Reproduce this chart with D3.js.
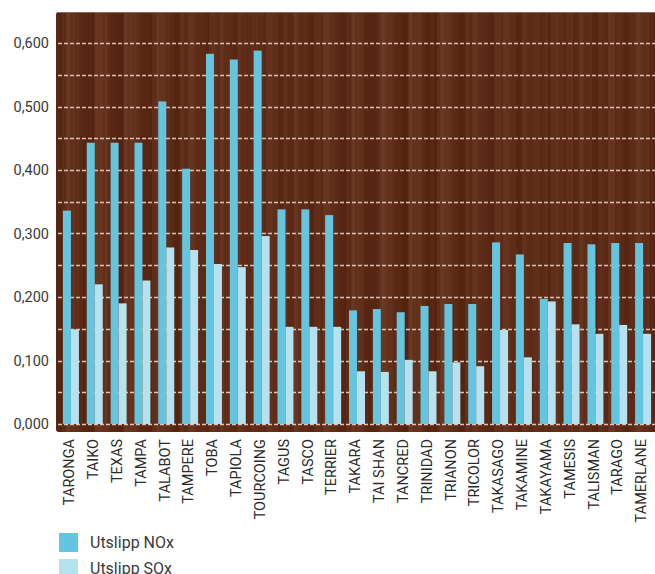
<!DOCTYPE html>
<html>
<head>
<meta charset="utf-8">
<script src="https://cdn.jsdelivr.net/npm/d3@7"></script>
<style>
    body { margin: 0; background: #fff; }
    svg { display: block; font-family: Roboto, "DejaVu Sans", sans-serif; }
</style>
</head>
<body>
<div id="chart"></div>
<script>
// skip navn
const ships = ["TARONGA", "TAIKO", "TEXAS", "TAMPA", "TALABOT", "TAMPERE", "TOBA", "TAPIOLA",
    "TOURCOING", "TAGUS", "TASCO", "TERRIER", "TAKARA", "TAI SHAN", "TANCRED", "TRINIDAD",
    "TRIANON", "TRICOLOR", "TAKASAGO", "TAKAMINE", "TAKAYAMA", "TAMESIS", "TALISMAN", "TARAGO", "TAMERLANE"];

const noxValues = [0.336, 0.443, 0.443, 0.443, 0.508, 0.402, 0.583, 0.574,
    0.588, 0.338, 0.338, 0.329, 0.179, 0.181, 0.176, 0.186,
    0.189, 0.189, 0.286, 0.267, 0.197, 0.285, 0.283, 0.285, 0.285];

const soxValues = [0.149, 0.220, 0.190, 0.226, 0.278, 0.274, 0.252, 0.247,
    0.296, 0.153, 0.153, 0.153, 0.083, 0.082, 0.101, 0.083,
    0.097, 0.091, 0.148, 0.105, 0.193, 0.157, 0.142, 0.156, 0.142];

const seriesNames = ["Utslipp NOx", "Utslipp SOx"];
const yTicks = [0, 0.1, 0.2, 0.3, 0.4, 0.5, 0.6];
const gridTicks = d3.range(0, 0.601, 0.05);

const colors = ["#66c5de", "#b5e2ee"];

const width = 655, height = 574;

const svg = d3.select("#chart").append("svg")
    .attr("width", width)
    .attr("height", height);

// trestruktur i bakgrunnen (vertikale striper i to lag)
const defs = svg.append("defs");
const stripeWidths = [3, 2, 4, 1, 3, 2, 5, 2, 1, 3, 4, 2, 3, 1, 2, 4, 3, 2, 1, 3, 2, 4];
const stripeColors = ["#5a2713", "#63301a", "#552511", "#6a3520", "#5e2b16", "#512310",
    "#62301b", "#582614", "#6c3b26", "#5c2915", "#532411", "#663420"];

function addPattern(id, widths, offset, h) {
    const tileW = d3.sum(widths);
    const p = defs.append("pattern")
        .attr("id", id)
        .attr("patternUnits", "userSpaceOnUse")
        .attr("width", tileW)
        .attr("height", h);
    let px = 0;
    widths.forEach((w, i) => {
        p.append("rect")
            .attr("x", px).attr("y", 0)
            .attr("width", w).attr("height", h)
            .attr("fill", stripeColors[(i * 5 + offset) % stripeColors.length]);
        px += w;
    });
}
addPattern("wood", stripeWidths, 0, 60);
addPattern("wood2", stripeWidths.slice().reverse().concat([2, 3, 1]), 3, 47);

// skala
const x = d3.scaleBand()
    .domain(ships)
    .range([59, 655])
    .paddingInner(0.33)
    .paddingOuter(0.165);

const xSub = d3.scaleBand()
    .domain([0, 1])
    .range([0, x.bandwidth()]);

const y = d3.scaleLinear()
    .domain([0, 0.6])
    .range([424, 43]);

// bakgrunnspanel
svg.append("rect")
    .attr("x", 56).attr("y", 12)
    .attr("width", 610).attr("height", 420)
    .attr("rx", 3)
    .attr("fill", "url(#wood)");
svg.append("rect")
    .attr("x", 56).attr("y", 12)
    .attr("width", 610).attr("height", 420)
    .attr("rx", 3)
    .attr("fill", "url(#wood2)")
    .attr("opacity", 0.45);
svg.append("line")
    .attr("x1", 58).attr("x2", 655)
    .attr("y1", 12.5).attr("y2", 12.5)
    .attr("stroke", "#8a6a5c").attr("stroke-width", 1);

// rutenett
svg.append("g")
    .selectAll("line")
    .data(gridTicks)
    .enter()
    .append("line")
    .attr("x1", 58).attr("x2", 655)
    .attr("y1", d => Math.round(y(d)) + 0.5)
    .attr("y2", d => Math.round(y(d)) + 0.5)
    .attr("stroke", "#dcc3b6")
    .attr("stroke-width", 1.3)
    .attr("stroke-dasharray", "4,2");

// søyler
const groups = svg.append("g")
    .selectAll("g")
    .data(ships)
    .enter()
    .append("g")
    .attr("transform", d => `translate(${x(d)},0)`);

groups.selectAll("rect")
    .data((d, i) => [noxValues[i], soxValues[i]])
    .enter()
    .append("rect")
    .attr("x", (d, j) => xSub(j))
    .attr("width", xSub.bandwidth())
    .attr("y", d => y(d))
    .attr("height", d => y(0) - y(d))
    .attr("fill", (d, j) => colors[j]);

// y-akse
const fmt = v => d3.format(".3f")(v).replace(".", ",");
svg.append("g")
    .selectAll("text")
    .data(yTicks)
    .enter()
    .append("text")
    .attr("x", 49)
    .attr("y", d => y(d))
    .attr("dy", "0.36em")
    .attr("text-anchor", "end")
    .style("font-size", "14.5px")
    .style("fill", "#3a3a3a")
    .text(fmt);

// x-akse
svg.append("g")
    .selectAll("text")
    .data(ships)
    .enter()
    .append("text")
    .attr("transform", d => `translate(${x(d) + x.bandwidth() / 2 - 2},439) rotate(-90)`)
    .attr("dy", "0.36em")
    .attr("text-anchor", "end")
    .style("font-size", "14.5px")
    .style("fill", "#2a2a2a")
    .text(d => d);

// tegnforklaring
const legend = svg.append("g")
    .selectAll("g")
    .data(seriesNames)
    .enter()
    .append("g")
    .attr("transform", (d, i) => `translate(59,${533 + i * 26})`);

legend.append("rect")
    .attr("width", 19).attr("height", 19)
    .attr("fill", (d, i) => colors[i]);

legend.append("text")
    .attr("x", 31)
    .attr("y", 15)
    .style("font-size", "16px")
    .style("fill", "#3a3a3a")
    .text(d => d);
</script>
</body>
</html>
